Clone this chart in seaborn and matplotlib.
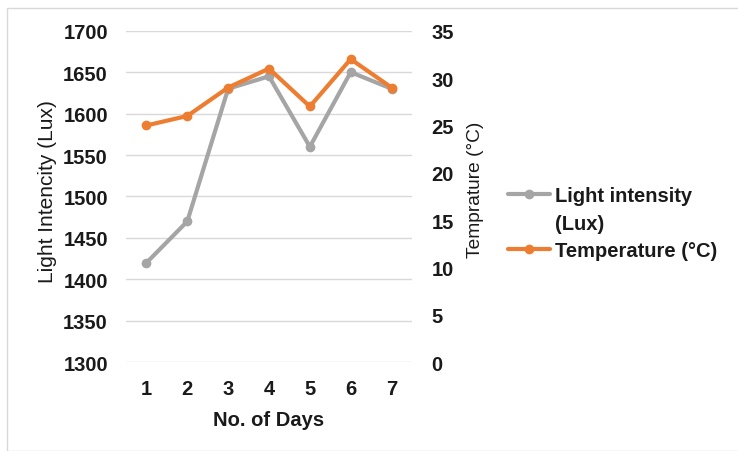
import matplotlib
matplotlib.use("Agg")
import matplotlib.pyplot as plt
import seaborn as sns
import pandas as pd
from matplotlib.patches import Rectangle
from matplotlib.lines import Line2D

days = [1, 2, 3, 4, 5, 6, 7]
light = [1420, 1470, 1630, 1645, 1560, 1650, 1630]
temp = [25, 26, 29, 31, 27, 32, 29]
left_ticks = [1300, 1350, 1400, 1450, 1500, 1550, 1600, 1650, 1700]
right_ticks = [0, 5, 10, 15, 20, 25, 30, 35]

sns.set_theme(style="white")
plt.rcParams['font.family'] = ['Liberation Sans', 'DejaVu Sans']

GRAY = "#A5A5A5"
ORANGE = "#ED7D31"
TXT = "#1a1a1a"
FS = 14.5

df = pd.DataFrame({"day": days, "light": light, "temp": temp})

fig = plt.figure(figsize=(7.38, 4.52), dpi=100)
ax = fig.add_axes([126/738, 1-363.3/452, 286/738, (363.3-31.7)/452])
ax2 = ax.twinx()

sns.lineplot(data=df, x="day", y="light", ax=ax, color=GRAY, lw=3, marker="o",
             markersize=7, markeredgewidth=0, zorder=3)
sns.lineplot(data=df, x="day", y="temp", ax=ax2, color=ORANGE, lw=3, marker="o",
             markersize=7, markeredgewidth=0, zorder=4)

ax.set_xlim(0.5, 7.5)
ax.set_ylim(1300, 1700)
ax2.set_ylim(0, 35)
ax.set_yticks(left_ticks)
ax2.set_yticks(right_ticks)
ax.set_xticks(days)
ax.grid(axis="y", color="#D9D9D9", lw=1)
ax.set_axisbelow(True)
for a in (ax, ax2):
    for s in a.spines.values():
        s.set_visible(False)
    a.tick_params(length=0)

ax.tick_params(axis="y", pad=13, labelsize=FS, labelcolor=TXT)
ax.tick_params(axis="x", pad=12, labelsize=FS, labelcolor=TXT)
ax2.tick_params(axis="y", pad=14, labelsize=FS, labelcolor=TXT)
for lbl in ax.get_yticklabels() + ax.get_xticklabels() + ax2.get_yticklabels():
    lbl.set_fontweight("bold")

ax.set_xlabel("No. of Days", fontsize=FS, fontweight="bold", labelpad=9, color=TXT)
ax.set_ylabel("Light Intencity (Lux)", fontsize=15, color=TXT)
ax2.set_ylabel("Temprature (°C)", fontsize=13.8, color=TXT)
ax.yaxis.set_label_coords(-0.241, 0.517)
ax2.yaxis.set_label_coords(1.192, 0.523)

handles = [Line2D([], [], color=GRAY, lw=3, marker="o", markersize=7, markeredgewidth=0),
           Line2D([], [], color="none", lw=0),
           Line2D([], [], color=ORANGE, lw=3, marker="o", markersize=7, markeredgewidth=0)]
leg = fig.legend(handles, ["Light intensity", "(Lux)", "Temperature (°C)"],
                 loc="upper left", bbox_to_anchor=(490/738, 1-169/452), frameon=False,
                 handlelength=2.1, handletextpad=0.25, labelspacing=0.42,
                 prop={"size": FS, "weight": "bold"})
for t in leg.get_texts():
    t.set_color(TXT)

fig.patches.append(Rectangle((7/738, 0), 1, 1-9/452, transform=fig.transFigure,
                             fill=False, edgecolor="#D9D9D9", lw=1))

fig.savefig("out.png", dpi=100)
